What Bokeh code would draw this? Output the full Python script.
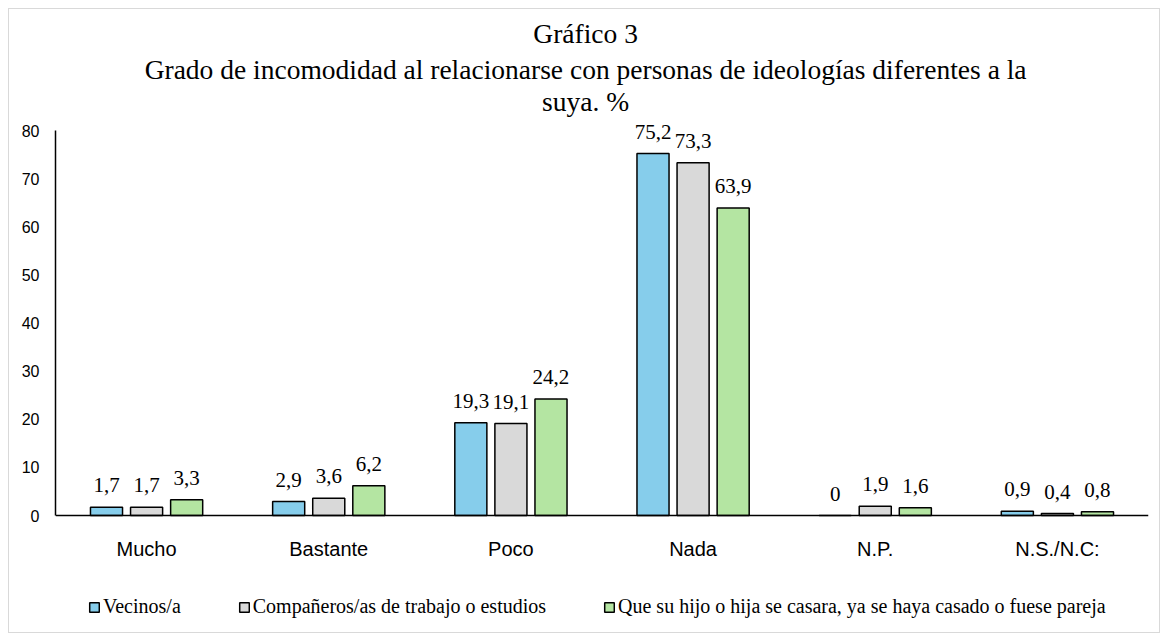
from bokeh.plotting import figure
from bokeh.models import (FactorRange, Range1d, ColumnDataSource, LabelSet, Label,
                          Legend, LegendItem, FixedTicker)
from bokeh.core.properties import value
from bokeh.transform import dodge
from bokeh.embed import file_html
from bokeh.resources import INLINE

categories = ["Mucho", "Bastante", "Poco", "Nada", "N.P.", "N.S./N.C:"]
vecinos = [1.7, 2.9, 19.3, 75.2, 0, 0.9]
companeros = [1.7, 3.6, 19.1, 73.3, 1.9, 0.4]
hijo = [3.3, 6.2, 24.2, 63.9, 1.6, 0.8]
series_names = ["Vecinos/a", "Compañeros/as de trabajo o estudios",
                "Que su hijo o hija se casara, ya se haya casado o fuese pareja"]
y_ticks = [0, 10, 20, 30, 40, 50, 60, 70, 80]
title_lines = ["Gráfico 3",
               "Grado de incomodidad al relacionarse con personas de ideologías diferentes a la",
               "suya. %"]

colors = ["#86CDEB", "#D9D9D9", "#B4E5A2"]
offsets = [-0.22, 0.0, 0.22]
serif = "Liberation Serif"
sans = "Liberation Sans"


def fmt(v):
    s = ("%g" % v).replace(".", ",")
    return s


p = figure(x_range=FactorRange(factors=categories, range_padding=0, factor_padding=0),
           y_range=Range1d(-23.27, 103.9),
           width=1152, height=625, output_backend="svg", toolbar_location=None,
           min_border_left=46, min_border_right=13, min_border_top=6, min_border_bottom=7)
p.styles = {"margin": "8px 0px 0px 8px", "border": "1px solid #D9D9D9"}
p.outline_line_color = None
p.xgrid.visible = False
p.ygrid.visible = False

src = ColumnDataSource(dict(cat=categories, v0=vecinos, v1=companeros, v2=hijo,
                            l0=[fmt(v) for v in vecinos],
                            l1=[fmt(v) for v in companeros],
                            l2=[fmt(v) for v in hijo]))

renderers = []
for i in range(3):
    r = p.vbar(x=dodge("cat", offsets[i], range=p.x_range), top="v%d" % i, width=0.176,
               source=src, fill_color=colors[i], line_color="black", line_width=1.5)
    renderers.append(r)
    lab = LabelSet(x=dodge("cat", offsets[i], range=p.x_range), y="v%d" % i, text="l%d" % i,
                   source=src, text_align="center", text_baseline="alphabetic",
                   y_offset=15, text_font=value(serif), text_font_size="21px",
                   text_color="black")
    p.add_layout(lab)

# category axis: baseline at 0 and category labels below it
p.hspan(y=[0], line_color="black", line_width=1.5)
p.add_layout(LabelSet(x="cat", y=0, text="cat", source=src, text_align="center",
                      text_baseline="middle", y_offset=-33, text_font=value(sans),
                      text_font_size="20px", text_color="black"))

# title
title_y = [100.2, 92.7, 86.0]
for t, ty in zip(title_lines, title_y):
    p.add_layout(Label(x=2.91, y=ty, text=t, text_align="center", text_baseline="middle",
                       text_font=serif, text_font_size="27.5px", text_color="black"))

# axes
p.xaxis.visible = False
p.yaxis.bounds = (0, 80)
p.yaxis.ticker = FixedTicker(ticks=y_ticks)
p.yaxis.major_tick_line_color = None
p.yaxis.minor_tick_line_color = None
p.yaxis.major_tick_out = 0
p.yaxis.major_tick_in = 0
p.yaxis.axis_line_color = "black"
p.yaxis.axis_line_width = 1.5
p.yaxis.major_label_standoff = 16
p.yaxis.major_label_text_font = sans
p.yaxis.major_label_text_font_size = "16px"
p.yaxis.major_label_text_color = "black"

legend = Legend(items=[LegendItem(label=series_names[i], renderers=[renderers[i]]) for i in range(3)],
                orientation="horizontal", location=(33, 9), spacing=57, label_standoff=3,
                glyph_width=12, glyph_height=12, label_text_font=serif,
                label_text_font_size="20px", label_text_color="black",
                border_line_color=None, background_fill_alpha=0, margin=0, padding=0)
p.add_layout(legend)

open("out.html", "w").write(file_html(p, INLINE))
